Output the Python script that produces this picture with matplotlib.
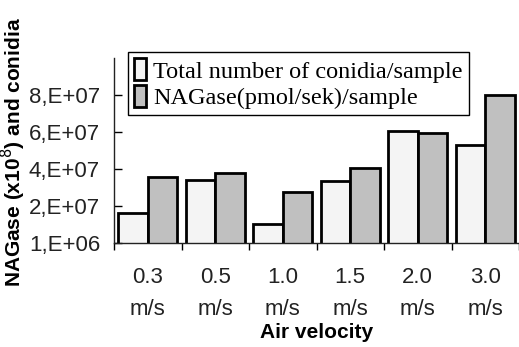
import numpy as np
import matplotlib
matplotlib.use("Agg")
import matplotlib.pyplot as plt
from matplotlib.ticker import FuncFormatter

# data
velocity = ["0.3\nm/s", "0.5\nm/s", "1.0\nm/s", "1.5\nm/s", "2.0\nm/s", "3.0\nm/s"]
conidia = [1.7e7, 3.5e7, 1.1e7, 3.43e7, 6.13e7, 5.38e7]
nagase = [3.67e7, 3.9e7, 2.85e7, 4.15e7, 6.03e7, 8.08e7]
yticks = [1e6, 2.1e7, 4.1e7, 6.1e7, 8.1e7]

plt.rcParams['font.family'] = ['Liberation Sans', 'DejaVu Sans']

fig = plt.figure(figsize=(5.19, 3.47), dpi=100)
ax = fig.add_axes([114/519, 1-243/347, 405/519, 185/347])

x = np.arange(len(velocity))
w = 0.44
ax.bar(x - w/2, conidia, w, bottom=0, color='#f4f4f4', edgecolor='black',
       linewidth=2, label='Total number of conidia/sample')
ax.bar(x + w/2, nagase, w, bottom=0, color='#c0c0c0', edgecolor='black',
       linewidth=2, label='NAGase(pmol/sek)/sample')

ax.set_ylim(1e6, 1.01e8)
ax.set_xlim(-0.5, len(velocity) - 0.5)
ax.set_yticks(yticks)

def sci(v, pos):
    e = int(np.floor(np.log10(v)))
    m = int(round(v / 10**e))
    return f"{m},E+{e:02d}"

ax.yaxis.set_major_formatter(FuncFormatter(sci))
ax.tick_params(axis='y', direction='in', length=6, width=1, labelsize=16,
               labelcolor='#222222', pad=10)

# category ticks on boundaries, labels centred
ax.set_xticks(np.arange(len(velocity) + 1) - 0.5)
ax.set_xticklabels([])
ax.set_xticks(x, minor=True)
ax.set_xticklabels(velocity, minor=True, fontsize=16, color='#222222',
                   linespacing=1.7)
ax.tick_params(axis='x', which='major', direction='out', length=5, width=1)
ax.tick_params(axis='x', which='minor', length=0, pad=17)

for s in ['top', 'right']:
    ax.spines[s].set_visible(False)
for s in ['left', 'bottom']:
    ax.spines[s].set_linewidth(1)
    ax.spines[s].set_color('#222222')

ax.set_xlabel('Air velocity', fontsize=15, fontweight='bold', labelpad=2)
ax.set_ylabel('NAGase (x10$^{8}$) and conidia', fontsize=15,
              fontweight='bold')
ax.yaxis.set_label_coords(-0.212, 0.49)

leg = ax.legend(loc='upper left', bbox_to_anchor=(127.7/519, 1-52.3/347),
                bbox_transform=fig.transFigure, fancybox=False,
                edgecolor='black', framealpha=1, handlelength=0.5,
                handleheight=1.0, handletextpad=0.3, borderpad=0.25,
                labelspacing=0.1, borderaxespad=0,
                prop={'family': 'Liberation Serif', 'size': 17.5})
leg.get_frame().set_linewidth(1)

fig.savefig('out.png', dpi=100)
